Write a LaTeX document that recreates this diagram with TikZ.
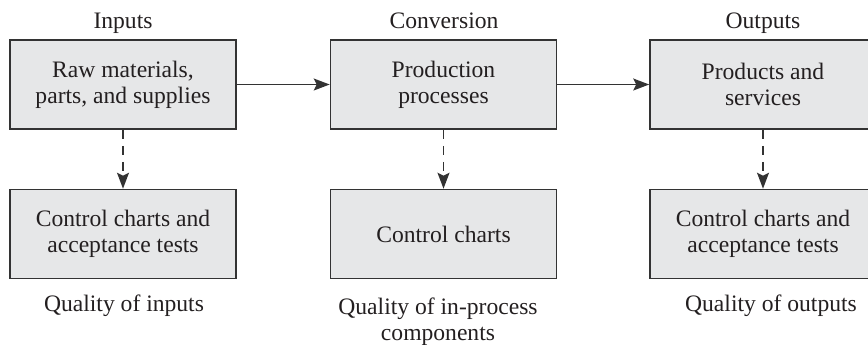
\documentclass[tikz,border=0pt]{standalone}
\usepackage{fontspec}
\setmainfont{Liberation Serif}
\usepackage{tikz}
\usetikzlibrary{calc,positioning,arrows.meta}

\definecolor{boxgray}{HTML}{E6E7E8}
\definecolor{linegray}{HTML}{333333}
\definecolor{inkgray}{HTML}{231F20}

\begin{document}
\begin{tikzpicture}[x=0.5pt,y=-0.5pt,>={Stealth[length=8pt,width=6pt,inset=1.5pt]},
    stage/.style={draw=linegray,line width=0.8pt,fill=boxgray,minimum width=113pt,
      minimum height=44.5pt,align=center,inner sep=0pt,text=inkgray,
      font=\fontsize{11.8}{13}\selectfont},
    lbl/.style={align=center,inner sep=0pt,text=inkgray,font=\fontsize{11.8}{13}\selectfont},
    flow/.style={draw=linegray,line width=0.8pt,->},
    check/.style={draw=linegray,line width=0.8pt,->,dash pattern=on 4.5pt off 3.5pt}]
  \useasboundingbox (0,0) rectangle (868,344);
  % top row
  \node[stage] (raw)  at (123,84.5)   {Raw materials,\\parts, and supplies};
  \node[stage] (proc) at (443.5,84.5) {Production\\processes};
  \node[stage] (prod) at (763,84.5)   {Products and\\services};
  % bottom row
  \node[stage] (cin)  at (123,234)    {Control charts and\\acceptance tests};
  \node[stage] (cpr)  at (443.5,234)  {Control charts};
  \node[stage] (cout) at (763,234)    {Control charts and\\acceptance tests};
  % headings
  \node[lbl,anchor=base] (hin)   at (123,28)   {Inputs};
  \node[lbl,anchor=base] (hconv) at (444,28)   {Conversion};
  \node[lbl,anchor=base] (hout)  at (763,28)   {Outputs};
  % captions
  \node[lbl,anchor=base] (qin)  at (124,311)  {Quality of inputs};
  \node[lbl,anchor=north] (qpr) at (438,297)  {Quality of in-process\\components};
  \node[lbl,anchor=base] (qout) at (771,311)  {Quality of outputs};
  \draw[flow] (raw) -- (proc);
  \draw[flow] (proc) -- (prod);
  \foreach \a/\b in {raw/cin,proc/cpr,prod/cout}{
    \draw[check] (\a) -- (\b);
  }
\end{tikzpicture}
\end{document}
